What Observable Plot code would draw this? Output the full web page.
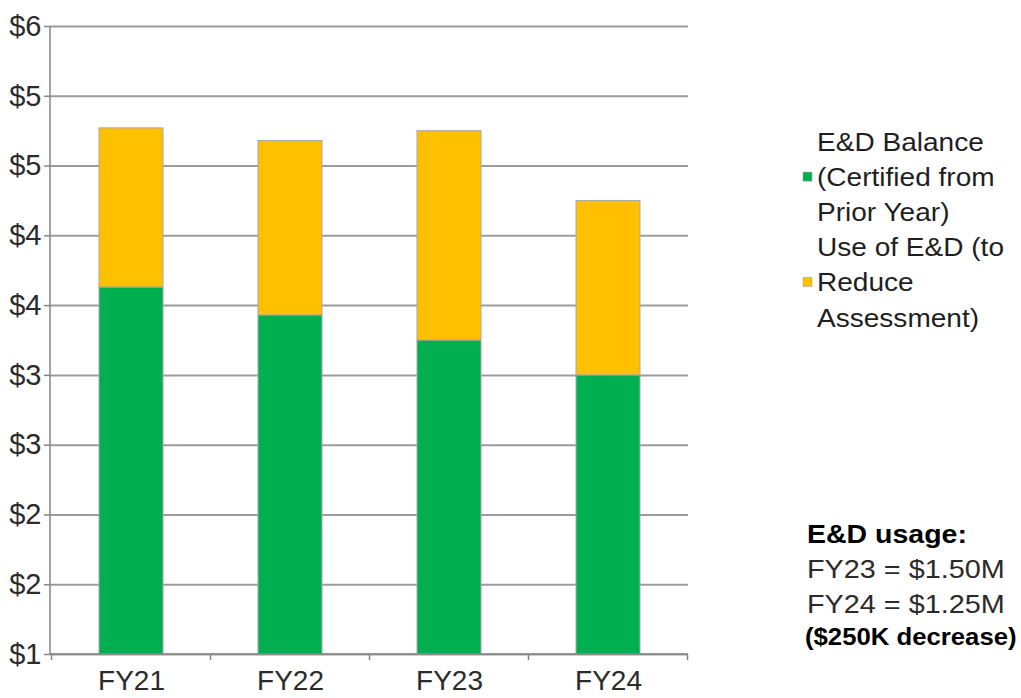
<!DOCTYPE html>
<html>
<head>
<meta charset="utf-8">
<script src="https://cdn.jsdelivr.net/npm/d3@7"></script>
<script src="https://cdn.jsdelivr.net/npm/@observablehq/plot@0.6"></script>
<style>
  html, body { margin: 0; padding: 0; background: #fff; }
  #chart { position: relative; width: 1021px; height: 698px; overflow: hidden; }
  #chart svg { display: block; }
</style>
</head>
<body>
<div id="chart"></div>
<script>
// Fiscal years and the two stacked series ($ millions)
const years = ["FY21", "FY22", "FY23", "FY24"];
const balance = [3.63, 3.43, 3.25, 3.00];   // E&D balance certified from prior year
const usage = [1.14, 1.25, 1.50, 1.25];     // E&D used to reduce the assessment
const seriesNames = ["E&D Balance (Certified from Prior Year)", "Use of E&D (to Reduce Assessment)"];
const seriesColors = ["#00B050", "#FFC000"];
const legendLines = [
  ["E&D Balance", "(Certified from", "Prior Year)"],
  ["Use of E&D (to", "Reduce", "Assessment)"]
];
const yTicks = [1, 1.5, 2, 2.5, 3, 3.5, 4, 4.5, 5, 5.5];

// Side note, built from the usage values it quotes
const noteLines = [
  "E&D usage:",
  `FY23 = $${usage[2].toFixed(2)}M`,
  `FY24 = $${usage[3].toFixed(2)}M`,
  `($${Math.round((usage[2] - usage[3]) * 1000)}K decrease)`
];

const rows = years.flatMap((year, i) => [
  {year, series: seriesNames[0], value: balance[i]},
  {year, series: seriesNames[1], value: usage[i]}
]);

const font = "'Liberation Sans', Arial, Helvetica, sans-serif";
const lineColor = "#868686";

// Axis lines plus the category-boundary ticks along the bottom
function axisLines(index, scales, values, dims) {
  const {x, y} = scales;
  const left = dims.marginLeft;
  const right = dims.width - dims.marginRight;
  const base = y(yTicks[0]);
  const top = y(yTicks[yTicks.length - 1]);
  const gap = (x.step() - x.bandwidth()) / 2;
  const edges = years.map(d => x(d) - gap)
    .concat(x(years[years.length - 1]) + x.bandwidth() + gap);
  const g = d3.create("svg:g")
    .attr("stroke", lineColor)
    .attr("stroke-width", 1.5)
    .attr("fill", "none");
  g.append("line").attr("x1", left).attr("x2", left).attr("y1", top).attr("y2", base);
  g.append("line").attr("x1", left).attr("x2", right).attr("y1", base).attr("y2", base);
  g.selectAll("line.edge").data(edges).join("line")
    .attr("class", "edge")
    .attr("x1", d => d).attr("x2", d => d)
    .attr("y1", base).attr("y2", base + 6);
  return g.node();
}

const chart = Plot.plot({
  width: 1021,
  height: 698,
  marginLeft: 50,
  marginRight: 333,
  marginTop: 26,
  marginBottom: 44,
  style: {fontFamily: font, color: "#262626", background: "#fff"},
  x: {domain: years, paddingInner: 0.6, paddingOuter: 0.3, label: null},
  y: {domain: [yTicks[0], yTicks[yTicks.length - 1]], clamp: true, label: null},
  color: {domain: seriesNames, range: seriesColors},
  marks: [
    Plot.ruleY(yTicks, {stroke: "#9c9c9c", strokeWidth: 2}),
    Plot.barY(rows, {x: "year", y: "value", fill: "series", stroke: "#a8a8a8", strokeWidth: 1}),
    axisLines,
    Plot.axisY(yTicks, {
      tickFormat: d => "$" + Math.round(d),
      tickSize: 6,
      tickPadding: 3,
      fontSize: 29,
      stroke: lineColor,
      strokeWidth: 1.5,
      fill: "#2b2b2b",
      label: null
    }),
    Plot.axisX({tickSize: 0, tickPadding: 16, fontSize: 28, fill: "#2b2b2b", label: null})
  ]
});

document.getElementById("chart").appendChild(chart);

const svg = d3.select(chart);

// Legend: colour swatch beside each wrapped series name
const legend = svg.append("g")
  .attr("font-family", font)
  .attr("font-size", 25.5)
  .attr("text-anchor", "start")
  .attr("fill", "#1f1f1f");
legendLines.forEach((lines, i) => {
  lines.forEach((t, j) => {
    legend.append("text")
      .attr("transform", `translate(817,${151 + (i * 3 + j) * 35.1}) scale(1.1,1)`)
      .text(t);
  });
  legend.append("rect")
    .attr("x", 803)
    .attr("y", 151 + (i * 3 + 1) * 35.1 - 14)
    .attr("width", 9)
    .attr("height", 9)
    .attr("fill", seriesColors[i])
    .attr("stroke", "#9a9a9a")
    .attr("stroke-width", 0.5);
});

// Usage note in the lower right
const noteStyle = [
  {x: 807, y: 543, size: 25, sx: 1.14, weight: "bold", fill: "#000"},
  {x: 807, y: 578, size: 25.5, sx: 1.13, weight: "normal", fill: "#2b2b2b"},
  {x: 807, y: 613, size: 25.5, sx: 1.13, weight: "normal", fill: "#2b2b2b"},
  {x: 805, y: 645, size: 24.5, sx: 1.05, weight: "bold", fill: "#000"}
];
const note = svg.append("g").attr("font-family", font).attr("text-anchor", "start");
noteLines.forEach((t, i) => {
  const s = noteStyle[i];
  note.append("text")
    .attr("transform", `translate(${s.x},${s.y}) scale(${s.sx},1)`)
    .attr("font-size", s.size)
    .attr("font-weight", s.weight)
    .attr("fill", s.fill)
    .text(t);
});
</script>
</body>
</html>
